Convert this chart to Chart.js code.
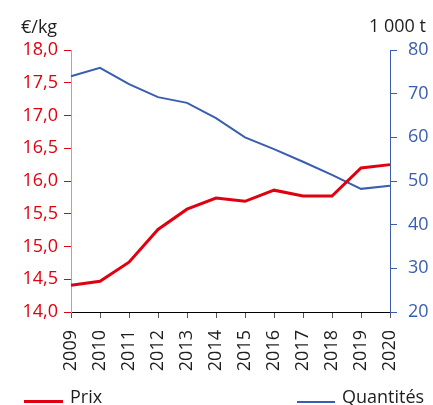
<!DOCTYPE html>
<html>
<head>
<meta charset="utf-8">
<script src="https://cdn.jsdelivr.net/npm/chart.js@4"></script>
<style>
  html, body { margin: 0; padding: 0; background: #fff; }
  #wrap { position: relative; width: 433px; height: 405px; font-family: "Open Sans", sans-serif; overflow: hidden; }
  canvas { position: absolute; left: 0; top: 0; }
  .lbl { position: absolute; font-size: 18px; color: #1e1e1e; white-space: nowrap; line-height: 1; }
  .sw { position: absolute; height: 0; }
</style>
</head>
<body>
<div id="wrap">
  <canvas id="c" width="433" height="405"></canvas>
  <div class="lbl" style="left:21px; top:17px;">€/kg</div>
  <div class="lbl" style="left:369px; top:16px;">1 000 t</div>
  <div class="sw" style="left:24px; top:400px; width:39px; border-top:3px solid #e1000f;"></div>
  <div class="lbl" style="left:70px; top:387px;">Prix</div>
  <div class="sw" style="left:297px; top:401px; width:38px; border-top:2px solid #3a5dae;"></div>
  <div class="lbl" style="left:342px; top:387px;">Quantités</div>
</div>
<script>
const years = ["2009","2010","2011","2012","2013","2014","2015","2016","2017","2018","2019","2020"];
const prix = [14.41, 14.47, 14.76, 15.26, 15.57, 15.74, 15.69, 15.86, 15.77, 15.77, 16.20, 16.25];
const quantites = [74.0, 75.9, 72.2, 69.2, 67.9, 64.4, 60.0, 57.3, 54.4, 51.4, 48.2, 48.9];

const RED = "#e1000f";
const BLUE = "#3a5dae";
const FONT = { family: "Open Sans", size: 18 };

new Chart(document.getElementById("c"), {
  type: "line",
  data: {
    labels: years,
    datasets: [
      { label: "Prix", data: prix, yAxisID: "y", borderColor: RED, borderWidth: 3, pointRadius: 0, tension: 0, fill: false },
      { label: "Quantités", data: quantites, yAxisID: "y1", borderColor: BLUE, borderWidth: 2, pointRadius: 0, tension: 0, fill: false }
    ]
  },
  options: {
    responsive: false,
    animation: false,
    layout: { padding: { top: 50, left: 0, right: 0, bottom: 0 } },
    plugins: { legend: { display: false }, tooltip: { enabled: false } },
    scales: {
      x: {
        offset: false,
        grid: { drawOnChartArea: false, drawTicks: true, tickLength: 6, color: "#555" },
        border: { color: "#000", width: 1 },
        ticks: { color: "#1e1e1e", font: FONT, minRotation: 90, maxRotation: 90, padding: 12, autoSkip: false },
        afterFit: (s) => { s.height = 93; }
      },
      y: {
        position: "left",
        min: 14, max: 18,
        grid: { drawOnChartArea: false, drawTicks: true, tickLength: 7, color: RED },
        border: { color: "#f08a8f", width: 1 },
        ticks: { stepSize: 0.5, color: RED, font: FONT, padding: 6,
          callback: (v) => Number(v).toFixed(1).replace(".", ",") },
        afterFit: (s) => { s.width = 71; }
      },
      y1: {
        position: "right",
        min: 20, max: 80,
        grid: { drawOnChartArea: false, drawTicks: true, tickLength: 7, color: BLUE },
        border: { color: BLUE, width: 1 },
        ticks: { stepSize: 10, color: BLUE, font: FONT, padding: 11 },
        afterFit: (s) => { s.width = 43; }
      }
    }
  }
});
</script>
</body>
</html>
